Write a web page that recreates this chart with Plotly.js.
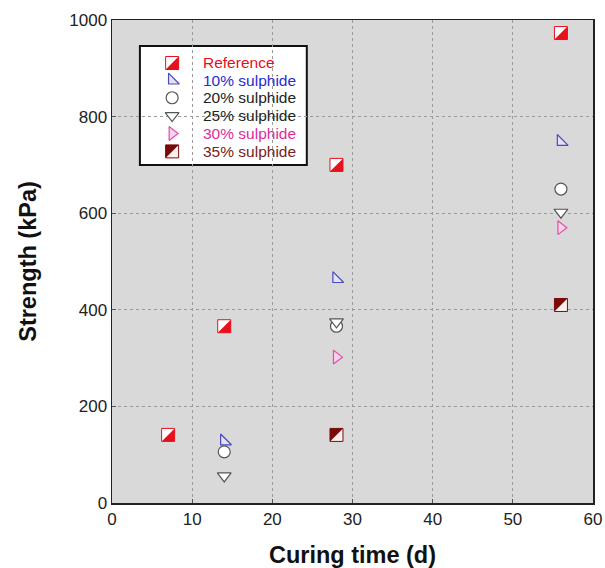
<!DOCTYPE html>
<html>
<head>
<meta charset="utf-8">
<script src="https://cdn.plot.ly/plotly-3.0.1.min.js"></script>
<style>html,body{margin:0;padding:0;background:#fff;}#chart{width:605px;height:568px;}</style>
</head>
<body>
<div id="chart"></div>
<script>
// ---- data ----
var seriesNames = ["Reference", "10% sulphide", "20% sulphide", "25% sulphide", "30% sulphide", "35% sulphide"];
var refX = [7, 14, 28, 56];
var refY = [141, 366, 700, 973];
var s10X = [14, 28, 56];
var s10Y = [128, 464, 748];
var s20X = [14, 28, 56];
var s20Y = [106, 366, 650];
var s25X = [14, 28, 56];
var s25Y = [56, 375, 602];
var s30X = [28, 56];
var s30Y = [302, 570];
var s35X = [28, 56];
var s35Y = [141, 410];
var xTicks = [0, 10, 20, 30, 40, 50, 60];
var yTicks = [0, 200, 400, 600, 800, 1000];

// ---- styles ----
var FONT = "Liberation Sans, Arial, sans-serif";
var styles = {
  "Reference":    {kind: "half", corner: "lr", color: "#e8101c", light: "#ffffff", text: "#e8101c"},
  "10% sulphide": {kind: "sym", symbol: "triangle-sw", line: "#4a4ac0", fill: "#e2e2f4", text: "#2a2ad0"},
  "20% sulphide": {kind: "sym", symbol: "circle", line: "#555555", fill: "#ffffff", text: "#222222"},
  "25% sulphide": {kind: "sym", symbol: "triangle-down", line: "#555555", fill: "#ffffff", text: "#222222"},
  "30% sulphide": {kind: "sym", symbol: "triangle-right", line: "#e050a8", fill: "#f6d2ea", text: "#e02a9a"},
  "35% sulphide": {kind: "half", corner: "ul", color: "#7a0a0a", light: "#fff0f0", text: "#7a2020"}
};
var MS = 12;   // marker size in px
var H = 6.5;   // half size of half-filled squares, px

var seriesX = [refX, s10X, s20X, s25X, s30X, s35X];
var seriesY = [refY, s10Y, s20Y, s25Y, s30Y, s35Y];

var traces = [];
var shapes = [];

function halfSquare(xref, yref, xa, ya, st) {
  var sq = "M " + (-H) + " " + (-H) + " L " + H + " " + (-H) + " L " + H + " " + H + " L " + (-H) + " " + H + " Z";
  var tri = st.corner === "lr"
    ? "M " + (-H) + " " + (-H) + " L " + H + " " + (-H) + " L " + H + " " + H + " Z"
    : "M " + (-H) + " " + (-H) + " L " + (-H) + " " + H + " L " + H + " " + H + " Z";
  var base = {type: "path", xref: xref, yref: yref, xsizemode: "pixel", ysizemode: "pixel",
              xanchor: xa, yanchor: ya, layer: "above"};
  shapes.push(Object.assign({}, base, {path: sq, fillcolor: st.light, line: {width: 0}}));
  shapes.push(Object.assign({}, base, {path: tri, fillcolor: st.color, line: {width: 0}}));
  shapes.push(Object.assign({}, base, {path: sq, fillcolor: "rgba(0,0,0,0)", line: {color: st.color, width: 1}}));
}

seriesNames.forEach(function (name, i) {
  var st = styles[name];
  if (st.kind === "sym") {
    traces.push({
      type: "scatter", mode: "markers", name: name, x: seriesX[i], y: seriesY[i],
      marker: {symbol: st.symbol, size: MS, color: st.fill, line: {color: st.line, width: 1.2}},
      showlegend: false, hoverinfo: "x+y"
    });
  } else {
    for (var k = 0; k < seriesX[i].length; k++) {
      halfSquare("x", "y", seriesX[i][k], seriesY[i][k], st);
    }
  }
});

// ---- hand-made legend (paper coords) ----
var legX0 = 0.058, legX1 = 0.405, legY0 = 0.700, legY1 = 0.946;
var legSymX = 0.125, legTextX = 0.185;
var legRows = [0.911, 0.875, 0.839, 0.802, 0.765, 0.728];
shapes.unshift({type: "rect", xref: "paper", yref: "paper", x0: legX0, x1: legX1, y0: legY0, y1: legY1,
  fillcolor: "#ffffff", line: {color: "#111111", width: 2}, layer: "below"});
var annotations = [];
seriesNames.forEach(function (name, i) {
  var st = styles[name];
  annotations.push({xref: "paper", yref: "paper", x: legTextX, y: legRows[i], xanchor: "left", yanchor: "middle",
    text: name, showarrow: false, font: {family: FONT, size: 15.5, color: st.text}});
  if (st.kind === "half") {
    halfSquare("paper", "paper", legSymX, legRows[i], st);
  } else {
    traces.push({
      type: "scatter", mode: "markers", x: [legSymX], y: [legRows[i]], xaxis: "x2", yaxis: "y2",
      marker: {symbol: st.symbol, size: MS, color: st.fill, line: {color: st.line, width: 1.2}},
      showlegend: false, hoverinfo: "skip"
    });
  }
});

var layout = {
  width: 605, height: 568,
  margin: {l: 112, r: 12, t: 20, b: 65},
  paper_bgcolor: "#ffffff",
  plot_bgcolor: "#d9d9d9",
  showlegend: false,
  font: {family: FONT, color: "#222222"},
  xaxis: {
    range: [0, 60], tickvals: xTicks, ticktext: xTicks.map(String),
    showgrid: true, gridcolor: "#9a9a9a", griddash: "dot", gridwidth: 1,
    zeroline: false, showline: true, linecolor: "#222222", linewidth: 1.5, mirror: true,
    ticks: "inside", ticklen: 4, tickcolor: "#555555",
    tickfont: {family: FONT, size: 17, color: "#222222"},
    automargin: false,
    title: {text: "<b>Curing time (d)</b>", font: {family: FONT, size: 23.5, color: "#111111"}, standoff: 18}
  },
  yaxis: {
    range: [0, 1000], tickvals: yTicks, ticktext: yTicks.map(String),
    showgrid: true, gridcolor: "#9a9a9a", griddash: "dot", gridwidth: 1,
    zeroline: false, showline: true, linecolor: "#222222", linewidth: 1.5, mirror: true,
    ticks: "inside", ticklen: 4, tickcolor: "#555555",
    tickfont: {family: FONT, size: 17, color: "#222222"},
    automargin: false,
    title: {text: "<b>Strength (kPa)</b>", font: {family: FONT, size: 23.5, color: "#111111"}, standoff: 26}
  },
  xaxis2: {overlaying: "x", range: [0, 1], visible: false, fixedrange: true},
  yaxis2: {overlaying: "y", range: [0, 1], visible: false, fixedrange: true},
  shapes: shapes,
  annotations: annotations
};

Plotly.newPlot("chart", traces, layout, {displayModeBar: false, staticPlot: true});
</script>
</body>
</html>
